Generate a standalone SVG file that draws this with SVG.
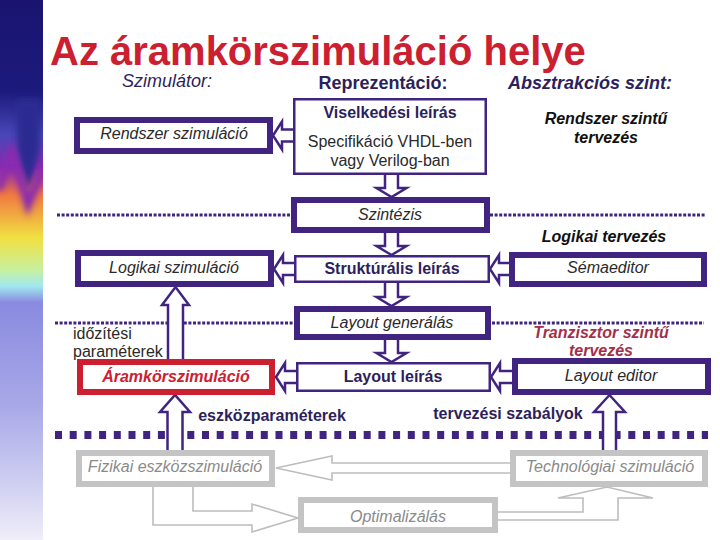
<svg xmlns="http://www.w3.org/2000/svg" xmlns:xlink="http://www.w3.org/1999/xlink" width="720" height="540" viewBox="0 0 720 540">
<style>
text{font-family:"Liberation Sans",Arial,sans-serif;font-size:16px}
.title{font-size:40px;font-weight:bold;fill:#cc2030}
.hdr{font-size:18px;fill:#2d1f5c}
.b{font-weight:bold}
.it{font-style:italic}
.pur{fill:#2d1f5c}
.dk{fill:#2a2a2a}
.blk{fill:#111}
.mar{fill:#a3304a}
.gry{fill:#8a8a8a}
.thick{fill:#fff;stroke:#402480;stroke-width:6}
.thin{fill:#fff;stroke:#402480;stroke-width:2.5}
.red{fill:#fff;stroke:#cc2030;stroke-width:6}
.gbox{fill:#fff;stroke:#c4c4c4;stroke-width:6}
.arr{fill:#fff;stroke:#402480;stroke-width:2.5;stroke-linejoin:miter}
.garr{fill:#fff;stroke:#bdbdbd;stroke-width:1.6}
.dot{stroke:#402480;stroke-width:3;stroke-dasharray:3 1.6;fill:none}
.sq{stroke:#402480;stroke-width:8;stroke-dasharray:7 7.7;fill:none}
</style>
<defs>
<linearGradient id="strip" x1="0" y1="0" x2="0" y2="1">
<stop offset="0" stop-color="#1a1470"/>
<stop offset="0.17" stop-color="#1c1a7c"/>
<stop offset="0.25" stop-color="#4848b8"/>
<stop offset="0.31" stop-color="#8a2ab0"/>
<stop offset="0.36" stop-color="#f07840"/>
<stop offset="0.44" stop-color="#f0e040"/>
<stop offset="0.50" stop-color="#c8f0a0"/>
<stop offset="0.53" stop-color="#a0e8f0"/>
<stop offset="0.56" stop-color="#8a8ae0"/>
<stop offset="0.75" stop-color="#a8a8e8"/>
<stop offset="0.9" stop-color="#d0d0f2"/>
<stop offset="1" stop-color="#f0eef8"/>
</linearGradient>
<filter id="blur" x="-50%" y="-50%" width="200%" height="200%"><feGaussianBlur stdDeviation="3"/></filter>
<clipPath id="stripClip"><rect x="0" y="0" width="43" height="540"/></clipPath>
<path id="la" d="M23,-6 H9 V-14 L0,0 L9,14 V6 H23"/>
<path id="da" d="M-6.5,-25 V-9 H-15 L0,0 L15,-9 H6.5 V-25"/>
</defs>
<rect x="0" y="0" width="720" height="540" fill="#fff"/>
<g id="strip-bg" clip-path="url(#stripClip)">
<rect x="0" y="0" width="43" height="540" fill="url(#strip)"/>
<path d="M17,100 L40,100 L40,150 L28,192 L17,150 Z" fill="#2a2a92" filter="url(#blur)"/>
<path d="M-2,190 L12,152 L28,205 L45,165" fill="none" stroke="#8a2ab0" stroke-width="8" filter="url(#blur)"/>
</g>

<text class="title" x="50" y="65">Az áramkörszimuláció helye</text>
<text class="hdr it" x="167" y="87" text-anchor="middle">Szimulátor:</text>
<text class="hdr b" x="383" y="89" text-anchor="middle">Reprezentáció:</text>
<text class="hdr b it" x="590" y="89" text-anchor="middle">Absztrakciós szint:</text>

<g id="separators">
<path class="dot" d="M57,215 H291 M490,215 H706"/>
<path class="dot" d="M55,323 H294 M492,323 H704"/>
<path class="sq" d="M55,435 H708"/>
</g>

<g id="connectors">
<use xlink:href="#la" class="arr" transform="translate(273,135.5)"/>
<use xlink:href="#la" class="arr" transform="translate(274,269)"/>
<use xlink:href="#la" class="arr" transform="translate(490,269)"/>
<use xlink:href="#la" class="arr" transform="translate(276,377)"/>
<use xlink:href="#la" class="arr" transform="translate(491,377)"/>
<use xlink:href="#da" class="arr" transform="translate(391.5,197)"/>
<use xlink:href="#da" class="arr" transform="translate(391.5,255)"/>
<use xlink:href="#da" class="arr" transform="translate(391.5,306)"/>
<use xlink:href="#da" class="arr" transform="translate(391.5,362)"/>
<path class="arr" d="M168,364 V305 H162 L175.5,287 L189,305 H183 V364"/>
<path class="arr" d="M167.5,455 V412 H160 L175,395 L190,412 H182.5 V455"/>
<path class="arr" d="M603,455 V412 H594 L609.5,395 L625,412 H616 V455"/>
<path class="garr" d="M514,463 H332 V456 L276,468 L332,480 V473 H514"/>
<path class="garr" d="M153,485 V525 H252 V532 L298,518 L252,504 V511 H193 V485"/>
<path class="garr" d="M496,512 H583 V498 H558 L607,487 L653,498 H618 V520 H496"/>
</g>

<g id="n-rendszer"><rect class="thick" x="77" y="120" width="193" height="31"/><text class="it dk" x="174" y="139" text-anchor="middle">Rendszer szimuláció</text></g>
<g id="n-viselkedes"><rect class="thin" x="294.25" y="99.25" width="191.5" height="74.5"/>
<text class="b pur" x="390" y="118" text-anchor="middle">Viselkedési leírás</text>
<text class="dk" x="390" y="147" text-anchor="middle">Specifikáció VHDL-ben</text>
<text class="dk" x="390" y="166" text-anchor="middle">vagy Verilog-ban</text></g>
<g id="n-rsz-terv"><text class="b it blk" x="606" y="124" text-anchor="middle">Rendszer szintű</text><text class="b it blk" x="606" y="143" text-anchor="middle">tervezés</text></g>
<g id="n-szintezis"><rect class="thick" x="294" y="200" width="193" height="30"/><text class="it dk" x="390" y="220" text-anchor="middle">Szintézis</text></g>
<g id="n-log-terv"><text class="b it blk" x="604" y="242" text-anchor="middle">Logikai tervezés</text></g>
<g id="n-logikai"><rect class="thick" x="78" y="253" width="193" height="31"/><text class="it dk" x="174" y="273" text-anchor="middle">Logikai szimuláció</text></g>
<g id="n-strukt"><rect class="thin" x="295.25" y="256.25" width="193.5" height="25.5"/><text class="b pur" x="392" y="274" text-anchor="middle">Struktúrális leírás</text></g>
<g id="n-sema"><rect class="thick" x="512" y="255" width="192" height="29"/><text class="it dk" x="608" y="273" text-anchor="middle">Sémaeditor</text></g>
<g id="n-laygen"><rect class="thick" x="297" y="309" width="191" height="28"/><text class="it dk" x="392" y="328" text-anchor="middle">Layout generálás</text></g>
<g id="n-idozites"><text class="dk" x="73" y="339">időzítési</text><text class="dk" x="73" y="357">paraméterek</text></g>
<g id="n-tranz"><text class="b it mar" x="601" y="338" text-anchor="middle">Tranzisztor szintű</text><text class="b it mar" x="601" y="356" text-anchor="middle">tervezés</text></g>
<g id="n-aramkor"><rect class="red" x="80" y="362" width="192" height="30"/><text class="b it" fill="#cc2030" x="176" y="382" text-anchor="middle">Áramkörszimuláció</text></g>
<g id="n-layleir"><rect class="thin" x="297.25" y="363.25" width="192.5" height="27.5"/><text class="b pur" x="393" y="382" text-anchor="middle">Layout leírás</text></g>
<g id="n-layedit"><rect class="thick" x="515" y="361" width="193" height="31"/><text class="it dk" x="611" y="381" text-anchor="middle">Layout editor</text></g>
<g id="n-eszkoz"><text class="b pur" x="272" y="421" text-anchor="middle">eszközparaméterek</text></g>
<g id="n-tervszab"><text class="b pur" x="508" y="419" text-anchor="middle">tervezési szabályok</text></g>
<g id="n-fizikai"><rect class="gbox" x="79" y="453" width="193" height="31"/><text class="it gry" x="175" y="472" text-anchor="middle">Fizikai eszközszimuláció</text></g>
<g id="n-techn"><rect class="gbox" x="513" y="453" width="192" height="31"/><text class="it gry" x="610" y="472" text-anchor="middle">Technológiai szimuláció</text></g>
<g id="n-optim"><rect class="gbox" x="301" y="500" width="194" height="30"/><text class="it gry" x="398" y="522" text-anchor="middle">Optimalizálás</text></g>
</svg>
